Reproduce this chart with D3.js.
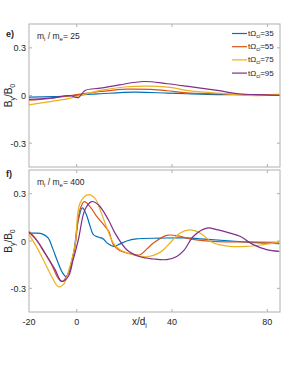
<!DOCTYPE html>
<html>
<head>
<meta charset="utf-8">
<script src="https://cdn.jsdelivr.net/npm/d3@7"></script>
<style>
  body { margin: 0; background: #fff; }
  text { font-family: "Liberation Sans", Arial, sans-serif; fill: #262626; }
</style>
</head>
<body>
<div class="svgcontainer"></div>
<script>
// series labels and colours (MATLAB defaults)
const times = [35, 55, 75, 95];
const colors = ["#0072BD", "#D95319", "#EDB120", "#7E2F8E"];
const xTicks = [0, 40, 80];
const yTicks = [-0.3, 0, 0.3];

// panel e) m_i/m_e = 25 : [x/d_i, By/B0]
const e35 = [[-20,-0.01],[-10,-0.007],[-4,-0.004],[2,0.004],[10,0.011],[24,0.021],[38,0.015],[46,0.011],[59,0.006],[72,0.006],[85,0.006]];
const e55 = [[-20,-0.03],[-12,-0.02],[-4,-0.004],[3,0.012],[10,0.025],[21,0.04],[31,0.038],[38,0.03],[46,0.017],[59,0.011],[72,0.006],[85,0.008]];
const e75 = [[-20,-0.059],[-11,-0.038],[-4,-0.021],[1.4,0],[10,0.032],[21,0.055],[31,0.059],[40,0.05],[46,0.032],[59,0.015],[72,0.0],[85,0.004]];
const e95 = [[-20,-0.025],[-11,-0.017],[-3,0.0],[0.7,-0.013],[3.5,0.032],[10,0.046],[18,0.067],[28,0.088],[38,0.074],[46,0.059],[59,0.032],[68,0.011],[78,0.004],[85,0.0]];

// panel f) m_i/m_e = 400
const f35 = [[-20,0.05],[-17,0.05],[-14.5,0.045],[-12,0.02],[-10,-0.05],[-8,-0.13],[-6,-0.2],[-4.5,-0.225],[-3,-0.19],[-1,-0.05],[0.5,0.12],[2.4,0.21],[4,0.17],[5.5,0.1],[7,0.04],[9,0.025],[11,0.015],[13,-0.015],[15.5,-0.034],[18,-0.02],[21,0.0],[25,0.013],[35,0.018],[45,0.02],[55,0.01],[65,0.0],[75,-0.01],[85,-0.017]];
const f55 = [[-20,0.06],[-17.5,0.02],[-14.7,-0.045],[-10.5,-0.15],[-8,-0.23],[-6.3,-0.256],[-4,-0.22],[-2,-0.12],[-0.7,-0.034],[1.4,0.2],[3.2,0.25],[5.5,0.22],[8.4,0.156],[11.9,0.093],[13.5,0.06],[15.4,-0.023],[18,-0.06],[21,-0.076],[26.6,-0.087],[29.5,-0.05],[32.2,-0.013],[37.8,0.036],[43.4,0.03],[47.6,0.013],[57,-0.003],[70,-0.006],[85,-0.008]];
const f75 = [[-20,0.04],[-17.5,-0.02],[-14.7,-0.098],[-10.5,-0.225],[-7.7,-0.29],[-5.6,-0.277],[-3,-0.17],[-0.7,-0.03],[1.4,0.24],[4.9,0.294],[7.7,0.27],[9.8,0.2],[11.9,0.114],[15.4,-0.013],[18.2,-0.055],[23.8,-0.087],[29.4,-0.1],[35,-0.072],[37.8,-0.034],[43.4,0.05],[47.6,0.07],[51.8,0.05],[57.4,-0.013],[64.3,-0.034],[71.4,-0.034],[78.3,-0.023],[85,-0.009]];
const f95 = [[-20,0.055],[-16.5,0.0],[-13.3,-0.076],[-9.1,-0.18],[-6.3,-0.256],[-3.5,-0.225],[-1.5,-0.12],[0.7,0.008],[3.5,0.2],[6.3,0.25],[9.1,0.23],[13.3,0.135],[16.1,0.05],[21,-0.055],[26.6,-0.1],[32.2,-0.114],[37.8,-0.118],[42,-0.098],[45,-0.06],[49,0.03],[54.6,0.082],[58.8,0.072],[64.3,0.05],[68.5,0.03],[74.1,-0.023],[79.7,-0.055],[85,-0.066]];

const panels = [
  { tag: "e)", tagY: 37, ratio: "25", top: 24, bottom: 167, series: [e35, e55, e75, e95], xLabels: false, legend: true },
  { tag: "f)", tagY: 177, ratio: "400", top: 170, bottom: 312, series: [f35, f55, f75, f95], xLabels: true, legend: false }
];

const W = 283, H = 366;
const left = 29, right = 280;

const svg = d3.select(".svgcontainer").append("svg")
  .attr("width", W).attr("height", H);

const x = d3.scaleLinear().domain([-20, 85.3]).range([left, right]);

panels.forEach(p => {
  const y = d3.scaleLinear().domain([-0.45, 0.45]).range([p.bottom, p.top]);
  const g = svg.append("g");

  // frame
  g.append("rect")
    .attr("x", left).attr("y", p.top)
    .attr("width", right - left).attr("height", p.bottom - p.top)
    .attr("fill", "none").attr("stroke", "#b0b0b0").attr("stroke-width", 1);

  // inward ticks on all four sides
  xTicks.forEach(t => {
    g.append("line").attr("x1", x(t)).attr("x2", x(t))
      .attr("y1", p.bottom).attr("y2", p.bottom - 3).attr("stroke", "#b0b0b0");
    g.append("line").attr("x1", x(t)).attr("x2", x(t))
      .attr("y1", p.top).attr("y2", p.top + 3).attr("stroke", "#b0b0b0");
  });
  yTicks.forEach(t => {
    g.append("line").attr("x1", left).attr("x2", left + 3)
      .attr("y1", y(t)).attr("y2", y(t)).attr("stroke", "#b0b0b0");
    g.append("line").attr("x1", right).attr("x2", right - 3)
      .attr("y1", y(t)).attr("y2", y(t)).attr("stroke", "#b0b0b0");
    g.append("text").attr("x", left - 3).attr("y", y(t) + 3.5)
      .attr("text-anchor", "end").attr("font-size", 9)
      .text(t === 0 ? "0" : t.toFixed(1));
  });

  if (p.xLabels) {
    [-20, 0, 40, 80].forEach(t => {
      g.append("text").attr("x", x(t)).attr("y", p.bottom + 13)
        .attr("text-anchor", "middle").attr("font-size", 9)
        .text(t);
    });
    const xl = g.append("text").attr("x", 132).attr("y", p.bottom + 13).attr("font-size", 10);
    xl.append("tspan").text("x/d");
    xl.append("tspan").attr("font-size", 7).attr("dy", 3).text("i");
  }

  // y label
  const yl = g.append("text")
    .attr("transform", `translate(12,${y(0)}) rotate(-90)`)
    .attr("text-anchor", "middle").attr("font-size", 10);
  yl.append("tspan").text("B");
  yl.append("tspan").attr("font-size", 7).attr("dy", 3).text("y");
  yl.append("tspan").attr("dy", -3).text("/B");
  yl.append("tspan").attr("font-size", 7).attr("dy", 3).text("0");

  // panel tag and mass ratio
  g.append("text").attr("x", 6).attr("y", p.tagY)
    .attr("font-size", 9).attr("font-weight", "bold").text(p.tag);
  const mr = g.append("text").attr("x", 37).attr("y", p.top + 15).attr("font-size", 8.5);
  mr.append("tspan").text("m");
  mr.append("tspan").attr("font-size", 6).attr("dy", 2).text("i");
  mr.append("tspan").attr("dy", -2).text(" / m");
  mr.append("tspan").attr("font-size", 6).attr("dy", 2).text("e");
  mr.append("tspan").attr("dy", -2).text("= " + p.ratio);

  // curves
  const line = d3.line()
    .x(d => x(d[0])).y(d => y(d[1]))
    .curve(d3.curveCatmullRom.alpha(0.5));
  p.series.forEach((s, i) => {
    g.append("path").datum(s)
      .attr("fill", "none").attr("stroke", colors[i])
      .attr("stroke-width", 1.2).attr("d", line);
  });

  if (p.legend) {
    times.forEach((t, i) => {
      const ly = p.top + 9.5 + i * 13.2;
      g.append("line").attr("x1", 232).attr("x2", 247)
        .attr("y1", ly).attr("y2", ly)
        .attr("stroke", colors[i]).attr("stroke-width", 1.2);
      const lt = g.append("text").attr("x", 248).attr("y", ly + 2.5).attr("font-size", 8);
      lt.append("tspan").text("tΩ");
      lt.append("tspan").attr("font-size", 5.5).attr("dy", 2).text("ci");
      lt.append("tspan").attr("dy", -2).text("=" + t);
    });
  }
});
</script>
</body>
</html>
